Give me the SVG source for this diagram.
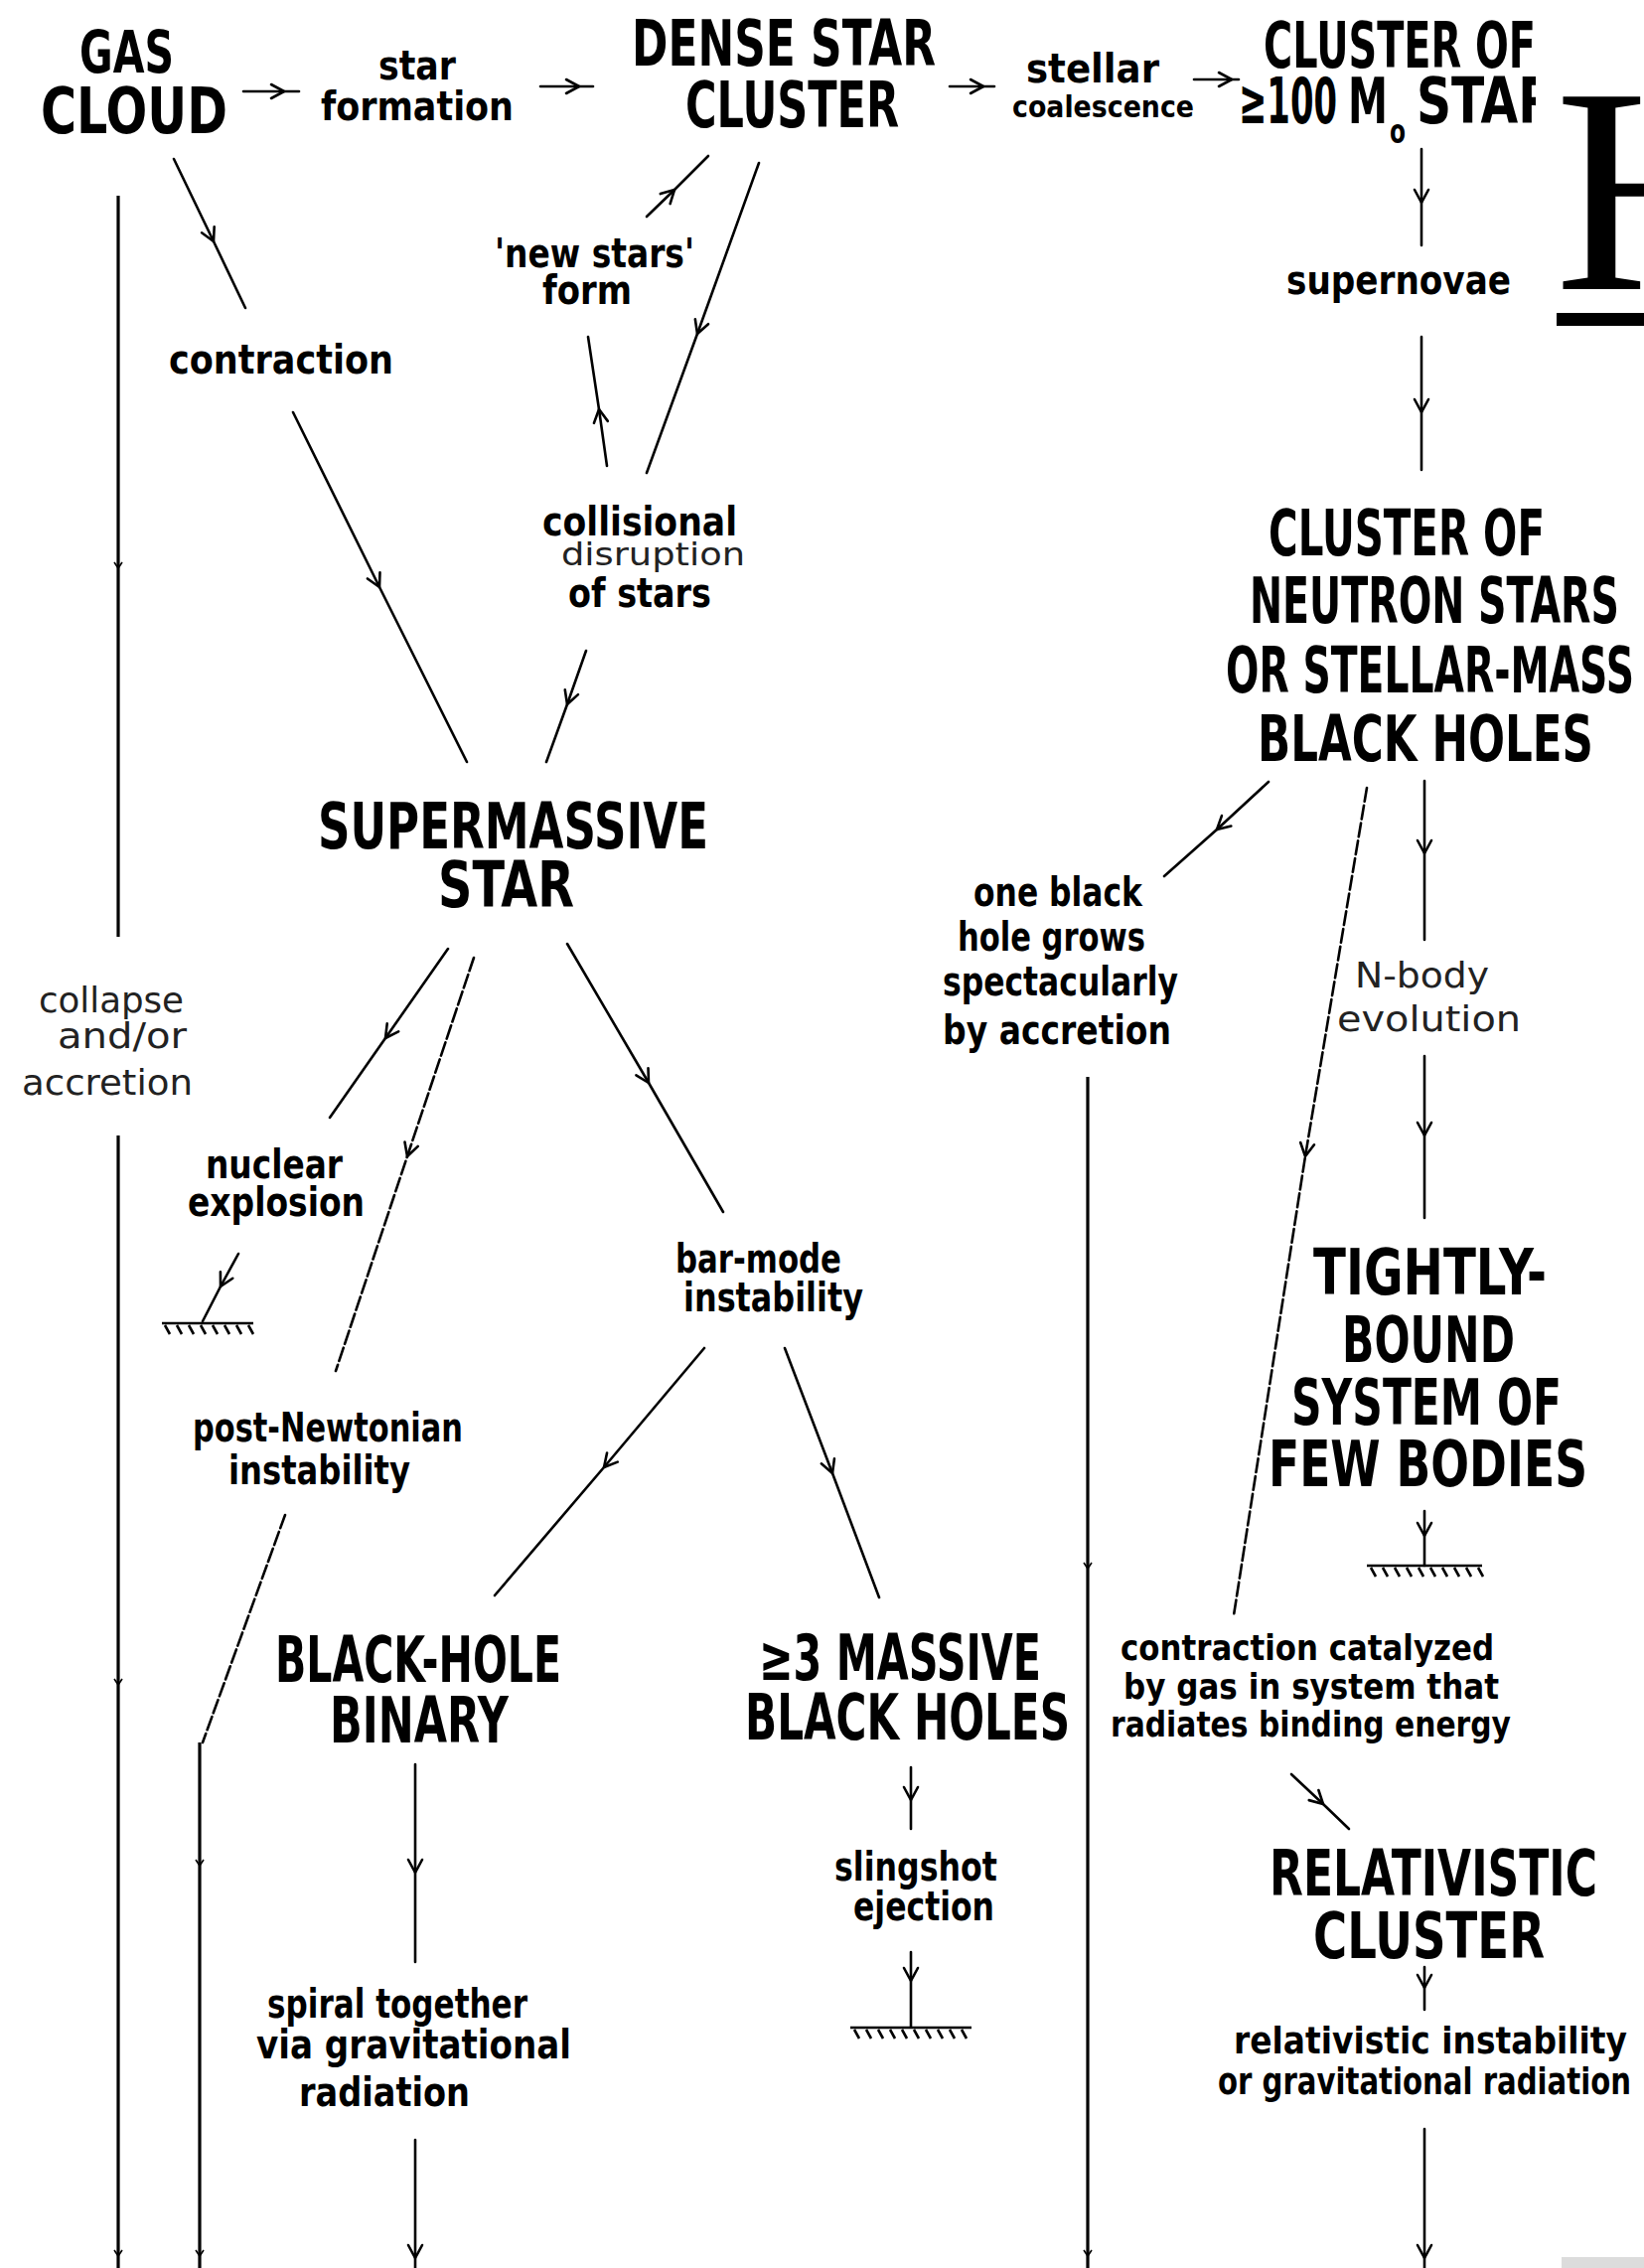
<svg xmlns="http://www.w3.org/2000/svg" width="1655" height="2283" viewBox="0 0 1655 2283">
<style>
text{font-family:"DejaVu Sans","Liberation Sans",sans-serif;fill:#000}
.cap{font-size:64px;font-weight:bold}
.lab{font-size:40px;font-weight:bold}
.thin{font-size:36px;font-weight:normal;fill:#222}
.ln{fill:none;stroke:#000;stroke-width:2.6;stroke-linecap:round;stroke-linejoin:round;marker-mid:url(#ah)}
.lt{fill:none;stroke:#000;stroke-width:3.2;marker-mid:url(#tk)}
.dash{stroke-dasharray:14 4}
.gnd{fill:none;stroke:#000;stroke-width:2.6}
</style>
<defs>
<marker id="ah" markerUnits="userSpaceOnUse" viewBox="-16 -10 18 20" markerWidth="18" markerHeight="20" refX="0" refY="0" orient="auto" overflow="visible">
<path d="M-13,-7 L0,0 L-13,7" fill="none" stroke="#000" stroke-width="2.6" stroke-linecap="round" stroke-linejoin="round"/>
</marker>
<marker id="tk" markerUnits="userSpaceOnUse" viewBox="-8 -6 10 12" markerWidth="10" markerHeight="12" refX="0" refY="0" orient="auto" overflow="visible">
<path d="M-6,-4 L0,0 L-6,4" fill="none" stroke="#000" stroke-width="1.6"/>
</marker>
<clipPath id="cl"><rect x="0" y="0" width="1546" height="200"/></clipPath>
</defs>
<rect x="0" y="0" width="1655" height="2283" fill="#fff"/>

<g id="connectors">
<path class="ln" d="M245,92 L286,92 L301,92"/>
<path class="ln" d="M544,87 L583,87 L597,87"/>
<path class="ln" d="M956,87 L990,87 L1001,87"/>
<path class="ln" d="M1202,80 L1240,80 L1247,80"/>
<path class="ln" d="M175,160 L215,243 L247,310"/>
<path class="ln" d="M295,415 L382,591 L470,767"/>
<path class="ln" d="M764,164 L702,336 L651,476"/>
<path class="ln" d="M611,469 L603,412 L592,339"/>
<path class="ln" d="M651,218 L679,191 L713,157"/>
<path class="ln" d="M590,655 L571,709 L550,767"/>
<path class="ln" d="M451,955 L388,1045 L332,1125"/>
<path class="ln dash" d="M477,964 L410,1164 L338,1380"/>
<path class="ln dash" d="M287,1525 L204,1754"/>
<path class="ln" d="M571,950 L653,1090 L728,1220"/>
<path class="ln" d="M709,1357 L608,1477 L498,1606"/>
<path class="ln" d="M790,1357 L838,1483 L885,1608"/>
<path class="ln" d="M418,1776 L418,1885 L418,1975"/>
<path class="ln" d="M418,2154 L418,2273 L418,2283"/>
<path class="ln" d="M917,1779 L917,1812 L917,1841"/>
<path class="ln" d="M917,1965 L917,1994 L917,2040"/>
<path class="ln" d="M240,1262 L222,1295 L204,1330"/>
<path class="ln" d="M1431,150 L1431,204 L1431,247"/>
<path class="ln" d="M1431,339 L1431,415 L1431,473"/>
<path class="ln" d="M1277,787 L1225,835 L1172,882"/>
<path class="ln" d="M1434,786 L1434,859 L1434,946"/>
<path class="ln" d="M1434,1063 L1434,1143 L1434,1226"/>
<path class="ln dash" d="M1376,793 L1314,1164 L1242,1626"/>
<path class="ln" d="M1434,1521 L1434,1546 L1434,1576"/>
<path class="ln" d="M1300,1786 L1332,1816 L1358,1841"/>
<path class="ln" d="M1434,1980 L1434,2001 L1434,2023"/>
<path class="ln" d="M1434,2143 L1434,2273 L1434,2283"/>
<path class="lt" d="M119,197 L119,572 L119,943"/>
<path class="lt" d="M119,1143 L119,1696 L119,2271 L119,2283"/>
<path class="lt" d="M201,1754 L201,1878 L201,2271 L201,2283"/>
<path class="lt" d="M1095,1084 L1095,1579 L1095,2271 L1095,2283"/>
<g id="grounds">
<path class="gnd" d="M163,1332 H255 M166,1334 l5,9 M178,1334 l5,9 M190,1334 l5,9 M202,1334 l5,9 M214,1334 l5,9 M226,1334 l5,9 M238,1334 l5,9 M250,1334 l5,9"/>
<path class="gnd" d="M856,2041 H978 M860,2043 l5,9 M872,2043 l5,9 M884,2043 l5,9 M896,2043 l5,9 M908,2043 l5,9 M920,2043 l5,9 M932,2043 l5,9 M944,2043 l5,9 M956,2043 l5,9 M968,2043 l5,9"/>
<path class="gnd" d="M1376,1576 H1492 M1380,1578 l5,9 M1392,1578 l5,9 M1404,1578 l5,9 M1416,1578 l5,9 M1428,1578 l5,9 M1440,1578 l5,9 M1452,1578 l5,9 M1464,1578 l5,9 M1476,1578 l5,9 M1488,1578 l5,9"/>
</g>
</g>

<g id="n-gas-cloud">
<text class="cap" style="font-size:58px" x="80" y="73" textLength="95" lengthAdjust="spacingAndGlyphs">GAS</text>
<text class="cap" x="41" y="134" textLength="188" lengthAdjust="spacingAndGlyphs">CLOUD</text>
</g>
<g id="n-star-formation">
<text class="lab" x="381" y="80" textLength="78" lengthAdjust="spacingAndGlyphs">star</text>
<text class="lab" x="323" y="121" textLength="194" lengthAdjust="spacingAndGlyphs">formation</text>
</g>
<g id="n-dense-star-cluster">
<text class="cap" x="636" y="66" textLength="306" lengthAdjust="spacingAndGlyphs">DENSE STAR</text>
<text class="cap" x="690" y="128" textLength="215" lengthAdjust="spacingAndGlyphs">CLUSTER</text>
</g>
<g id="n-stellar-coalescence">
<text class="lab" x="1033" y="83" textLength="134" lengthAdjust="spacingAndGlyphs">stellar</text>
<text class="lab" style="font-size:30px" x="1019" y="118" textLength="183" lengthAdjust="spacingAndGlyphs">coalescence</text>
</g>
<g id="n-cluster-100" clip-path="url(#cl)">
<text class="cap" x="1272" y="68" textLength="274" lengthAdjust="spacingAndGlyphs">CLUSTER OF</text>
<text class="cap" x="1247" y="124" textLength="99" lengthAdjust="spacingAndGlyphs">≥100</text>
<text class="cap" x="1357" y="124" textLength="40" lengthAdjust="spacingAndGlyphs">M</text>
<text class="lab" style="font-size:34px" x="1399" y="144" textLength="16" lengthAdjust="spacingAndGlyphs">o</text>
<text class="cap" x="1426" y="124" textLength="175" lengthAdjust="spacingAndGlyphs">STARS</text>
</g>
<g id="n-supernovae">
<text class="lab" x="1295" y="296" textLength="226" lengthAdjust="spacingAndGlyphs">supernovae</text>
</g>
<g id="n-cluster-ns">
<text class="cap" x="1277" y="559" textLength="278" lengthAdjust="spacingAndGlyphs">CLUSTER OF</text>
<text class="cap" x="1258" y="627" textLength="372" lengthAdjust="spacingAndGlyphs">NEUTRON STARS</text>
<text class="cap" x="1234" y="697" textLength="411" lengthAdjust="spacingAndGlyphs">OR STELLAR-MASS</text>
<text class="cap" x="1266" y="766" textLength="338" lengthAdjust="spacingAndGlyphs">BLACK HOLES</text>
</g>
<g id="n-contraction">
<text class="lab" x="170" y="376" textLength="226" lengthAdjust="spacingAndGlyphs">contraction</text>
</g>
<g id="n-new-stars">
<text class="lab" x="498" y="269" textLength="201" lengthAdjust="spacingAndGlyphs">'new stars'</text>
<text class="lab" x="546" y="306" textLength="90" lengthAdjust="spacingAndGlyphs">form</text>
</g>
<g id="n-collisional">
<text class="lab" x="546" y="539" textLength="196" lengthAdjust="spacingAndGlyphs">collisional</text>
<text class="thin" style="font-size:32px" x="565" y="569" textLength="185" lengthAdjust="spacingAndGlyphs">disruption</text>
<text class="lab" x="572" y="611" textLength="144" lengthAdjust="spacingAndGlyphs">of stars</text>
</g>
<g id="n-supermassive-star">
<text class="cap" x="320" y="854" textLength="393" lengthAdjust="spacingAndGlyphs">SUPERMASSIVE</text>
<text class="cap" x="441" y="913" textLength="137" lengthAdjust="spacingAndGlyphs">STAR</text>
</g>
<g id="n-collapse">
<text class="thin" x="39" y="1019" textLength="146" lengthAdjust="spacingAndGlyphs">collapse</text>
<text class="thin" x="58" y="1055" textLength="130" lengthAdjust="spacingAndGlyphs">and/or</text>
<text class="thin" x="22" y="1102" textLength="172" lengthAdjust="spacingAndGlyphs">accretion</text>
</g>
<g id="n-nuclear-explosion">
<text class="lab" x="207" y="1186" textLength="138" lengthAdjust="spacingAndGlyphs">nuclear</text>
<text class="lab" x="189" y="1224" textLength="178" lengthAdjust="spacingAndGlyphs">explosion</text>
</g>
<g id="n-post-newtonian">
<text class="lab" x="194" y="1451" textLength="272" lengthAdjust="spacingAndGlyphs">post-Newtonian</text>
<text class="lab" x="230" y="1494" textLength="183" lengthAdjust="spacingAndGlyphs">instability</text>
</g>
<g id="n-bar-mode">
<text class="lab" x="680" y="1281" textLength="167" lengthAdjust="spacingAndGlyphs">bar-mode</text>
<text class="lab" x="688" y="1320" textLength="181" lengthAdjust="spacingAndGlyphs">instability</text>
</g>
<g id="n-bh-binary">
<text class="cap" x="277" y="1693" textLength="288" lengthAdjust="spacingAndGlyphs">BLACK-HOLE</text>
<text class="cap" x="332" y="1754" textLength="180" lengthAdjust="spacingAndGlyphs">BINARY</text>
</g>
<g id="n-3-massive">
<text class="cap" x="764" y="1691" textLength="284" lengthAdjust="spacingAndGlyphs">≥3 MASSIVE</text>
<text class="cap" x="750" y="1751" textLength="327" lengthAdjust="spacingAndGlyphs">BLACK HOLES</text>
</g>
<g id="n-spiral">
<text class="lab" x="269" y="2031" textLength="262" lengthAdjust="spacingAndGlyphs">spiral together</text>
<text class="lab" x="258" y="2072" textLength="317" lengthAdjust="spacingAndGlyphs">via gravitational</text>
<text class="lab" x="301" y="2120" textLength="172" lengthAdjust="spacingAndGlyphs">radiation</text>
</g>
<g id="n-slingshot">
<text class="lab" x="840" y="1893" textLength="164" lengthAdjust="spacingAndGlyphs">slingshot</text>
<text class="lab" x="859" y="1933" textLength="142" lengthAdjust="spacingAndGlyphs">ejection</text>
</g>
<g id="n-one-black-hole">
<text class="lab" x="980" y="912" textLength="170" lengthAdjust="spacingAndGlyphs">one black</text>
<text class="lab" x="964" y="957" textLength="189" lengthAdjust="spacingAndGlyphs">hole grows</text>
<text class="lab" x="949" y="1002" textLength="237" lengthAdjust="spacingAndGlyphs">spectacularly</text>
<text class="lab" x="949" y="1051" textLength="230" lengthAdjust="spacingAndGlyphs">by accretion</text>
</g>
<g id="n-n-body">
<text class="thin" x="1364" y="994" textLength="135" lengthAdjust="spacingAndGlyphs">N-body</text>
<text class="thin" x="1346" y="1038" textLength="185" lengthAdjust="spacingAndGlyphs">evolution</text>
</g>
<g id="n-tightly-bound">
<text class="cap" x="1322" y="1303" textLength="235" lengthAdjust="spacingAndGlyphs">TIGHTLY-</text>
<text class="cap" x="1351" y="1371" textLength="174" lengthAdjust="spacingAndGlyphs">BOUND</text>
<text class="cap" x="1300" y="1434" textLength="272" lengthAdjust="spacingAndGlyphs">SYSTEM OF</text>
<text class="cap" x="1277" y="1496" textLength="321" lengthAdjust="spacingAndGlyphs">FEW BODIES</text>
</g>
<g id="n-contraction-catalyzed">
<text class="lab" style="font-size:36px" x="1128" y="1671" textLength="376" lengthAdjust="spacingAndGlyphs">contraction catalyzed</text>
<text class="lab" style="font-size:36px" x="1131" y="1710" textLength="378" lengthAdjust="spacingAndGlyphs">by gas in system that</text>
<text class="lab" style="font-size:36px" x="1118" y="1748" textLength="403" lengthAdjust="spacingAndGlyphs">radiates binding energy</text>
</g>
<g id="n-relativistic-cluster">
<text class="cap" x="1278" y="1908" textLength="330" lengthAdjust="spacingAndGlyphs">RELATIVISTIC</text>
<text class="cap" x="1322" y="1971" textLength="233" lengthAdjust="spacingAndGlyphs">CLUSTER</text>
</g>
<g id="n-relativistic-instability">
<text class="lab" style="font-size:38px" x="1242" y="2067" textLength="396" lengthAdjust="spacingAndGlyphs">relativistic instability</text>
<text class="lab" style="font-size:38px" x="1226" y="2108" textLength="416" lengthAdjust="spacingAndGlyphs">or gravitational radiation</text>
</g>
<g id="overlay">
<text x="1565" y="291" style="font-family:'Liberation Serif',serif;font-size:296px">H</text>
<rect x="1567" y="315" width="88" height="13" fill="#000"/>
<rect x="1572" y="2272" width="83" height="11" fill="#dcdcdc"/>
</g>
</svg>
